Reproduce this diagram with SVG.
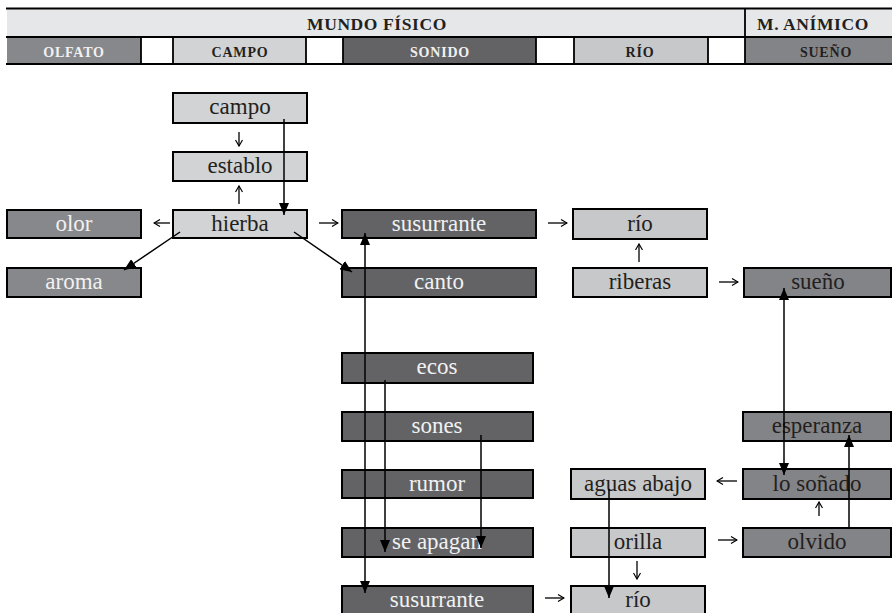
<svg xmlns="http://www.w3.org/2000/svg" width="892" height="613" viewBox="0 0 892 613">
<style>
.hd{font-family:'Liberation Serif','Times New Roman',serif;font-weight:bold;text-anchor:middle}
.h1{font-size:17.5px;letter-spacing:0.6px;fill:#231f20}
.h2{font-size:14px;letter-spacing:0.8px}
.nd rect{stroke:#000;stroke-width:2}
.tx{font-family:'Liberation Serif','Times New Roman',serif;font-size:23px;text-anchor:middle}
.olf rect{fill:#87888b}.olf text{fill:#f1f1f2}
.cam rect{fill:#d1d3d4}.cam text{fill:#231f20}
.son rect{fill:#636365}.son text{fill:#f1f1f2}
.rio rect{fill:#c7c8ca}.rio text{fill:#231f20}
.sue rect{fill:#838487}.sue text{fill:#231f20}
.ln{stroke:#000;stroke-width:1.5;fill:none}
.sm{stroke:#000;stroke-width:1.3;fill:none}
.lt{fill:#f1f1f2}.dk{fill:#231f20}
</style>
<defs>
<marker id="tri" viewBox="0 0 12 10" refX="12" refY="5" markerWidth="12" markerHeight="10" markerUnits="userSpaceOnUse" orient="auto-start-reverse">
<path d="M0,0 L12,5 L0,10 Z" fill="#000"/>
</marker>
<marker id="opn" viewBox="0 0 8 8" refX="7" refY="4" markerWidth="8" markerHeight="8" markerUnits="userSpaceOnUse" orient="auto">
<path d="M1,0.5 L7,4 L1,7.5" fill="none" stroke="#000" stroke-width="1.2"/>
</marker>
</defs>
<rect width="892" height="613" fill="#fff"/>
<g id="header">
<rect x="7" y="8" width="885" height="29" fill="#e6e7e8"/>
<rect x="7" y="37" width="134" height="27" fill="#87888b"/>
<rect x="141" y="37" width="32" height="27" fill="#fff"/>
<rect x="173" y="37" width="133" height="27" fill="#d1d3d4"/>
<rect x="306" y="37" width="37" height="27" fill="#fff"/>
<rect x="343" y="37" width="193" height="27" fill="#636365"/>
<rect x="536" y="37" width="38" height="27" fill="#fff"/>
<rect x="574" y="37" width="134" height="27" fill="#c7c8ca"/>
<rect x="708" y="37" width="37" height="27" fill="#fff"/>
<rect x="745" y="37" width="147" height="27" fill="#838487"/>
<path d="M6,8.5 H892 M6,37 H892 M6,64 H892" stroke="#000" stroke-width="2"/>
<path d="M745,8 V64 M141,37 V64 M173,37 V64 M306,37 V64 M343,37 V64 M536,37 V64 M574,37 V64 M708,37 V64" stroke="#000" stroke-width="1.8"/>
<text class="hd h1" x="377" y="30">MUNDO FÍSICO</text>
<text class="hd h1" x="813" y="30">M. ANÍMICO</text>
<text class="hd h2 lt" x="74" y="57">OLFATO</text>
<text class="hd h2 dk" x="240" y="57">CAMPO</text>
<text class="hd h2 lt" x="440" y="57">SONIDO</text>
<text class="hd h2 dk" x="640" y="57">RÍO</text>
<text class="hd h2 dk" x="826" y="57">SUEÑO</text>
</g>
<g id="n-olor" class="nd olf"><rect x="7" y="210" width="134" height="28"/><text class="tx" x="74" y="231">olor</text></g>
<g id="n-aroma" class="nd olf"><rect x="7" y="268" width="134" height="29"/><text class="tx" x="74" y="289">aroma</text></g>
<g id="n-campo" class="nd cam"><rect x="173" y="93" width="134" height="30"/><text class="tx" x="240" y="114">campo</text></g>
<g id="n-establo" class="nd cam"><rect x="173" y="152" width="134" height="29"/><text class="tx" x="240" y="173">establo</text></g>
<g id="n-hierba" class="nd cam"><rect x="173" y="210" width="134" height="28"/><text class="tx" x="240" y="231">hierba</text></g>
<g id="n-susurrante" class="nd son"><rect x="342" y="210" width="194" height="28"/><text class="tx" x="439" y="231">susurrante</text></g>
<g id="n-canto" class="nd son"><rect x="342" y="268" width="194" height="29"/><text class="tx" x="439" y="289">canto</text></g>
<g id="n-ecos" class="nd son"><rect x="342" y="353" width="191" height="30"/><text class="tx" x="437" y="374">ecos</text></g>
<g id="n-sones" class="nd son"><rect x="342" y="412" width="191" height="29"/><text class="tx" x="437" y="433">sones</text></g>
<g id="n-rumor" class="nd son"><rect x="342" y="470" width="191" height="28"/><text class="tx" x="437" y="491">rumor</text></g>
<g id="n-seapagan" class="nd son"><rect x="342" y="528" width="191" height="29"/><text class="tx" x="437" y="549">se apagan</text></g>
<g id="n-susurrante2" class="nd son"><rect x="342" y="586" width="191" height="30"/><text class="tx" x="437" y="607">susurrante</text></g>
<g id="n-rio" class="nd rio"><rect x="573" y="209" width="134" height="30"/><text class="tx" x="640" y="231">río</text></g>
<g id="n-riberas" class="nd rio"><rect x="573" y="268" width="134" height="29"/><text class="tx" x="640" y="289">riberas</text></g>
<g id="n-aguas" class="nd rio"><rect x="571" y="469" width="134" height="30"/><text class="tx" x="638" y="491">aguas abajo</text></g>
<g id="n-orilla" class="nd rio"><rect x="571" y="528" width="134" height="29"/><text class="tx" x="638" y="549">orilla</text></g>
<g id="n-rio2" class="nd rio"><rect x="571" y="586" width="134" height="30"/><text class="tx" x="638" y="607">río</text></g>
<g id="n-sueno" class="nd sue"><rect x="744" y="268" width="147" height="29"/><text class="tx" x="818" y="289">sueño</text></g>
<g id="n-esperanza" class="nd sue"><rect x="743" y="412" width="148" height="29"/><text class="tx" x="817" y="433">esperanza</text></g>
<g id="n-losonado" class="nd sue"><rect x="743" y="469" width="148" height="30"/><text class="tx" x="817" y="491">lo soñado</text></g>
<g id="n-olvido" class="nd sue"><rect x="743" y="528" width="148" height="29"/><text class="tx" x="817" y="549">olvido</text></g>
<g id="connectors">
<path class="ln" d="M284,119 V215" marker-end="url(#tri)"/>
<path class="ln" d="M180,232 L124,270" marker-end="url(#tri)"/>
<path class="ln" d="M294,232 L352,272" marker-end="url(#tri)"/>
<path class="ln" d="M365,233 V593" marker-start="url(#tri)" marker-end="url(#tri)"/>
<path class="ln" d="M385,380 V552" marker-end="url(#tri)"/>
<path class="ln" d="M481,435 V548" marker-end="url(#tri)"/>
<path class="ln" d="M784,288 V475" marker-start="url(#tri)" marker-end="url(#tri)"/>
<path class="ln" d="M849,527 V435" marker-end="url(#tri)"/>
<path class="ln" d="M609,489 V598" marker-end="url(#tri)"/>
<path class="sm" d="M239,132 V146" marker-end="url(#opn)"/>
<path class="sm" d="M239,204 V186" marker-end="url(#opn)"/>
<path class="sm" d="M170,223 H154" marker-end="url(#opn)"/>
<path class="sm" d="M319,223 H338" marker-end="url(#opn)"/>
<path class="sm" d="M548,223 H567" marker-end="url(#opn)"/>
<path class="sm" d="M639,262 V244" marker-end="url(#opn)"/>
<path class="sm" d="M719,282 H738" marker-end="url(#opn)"/>
<path class="sm" d="M737,481 H717" marker-end="url(#opn)"/>
<path class="sm" d="M819,516 V502" marker-end="url(#opn)"/>
<path class="sm" d="M718,540 H737" marker-end="url(#opn)"/>
<path class="sm" d="M637,561 V579" marker-end="url(#opn)"/>
<path class="sm" d="M545,598 H564" marker-end="url(#opn)"/>
</g>
</svg>
